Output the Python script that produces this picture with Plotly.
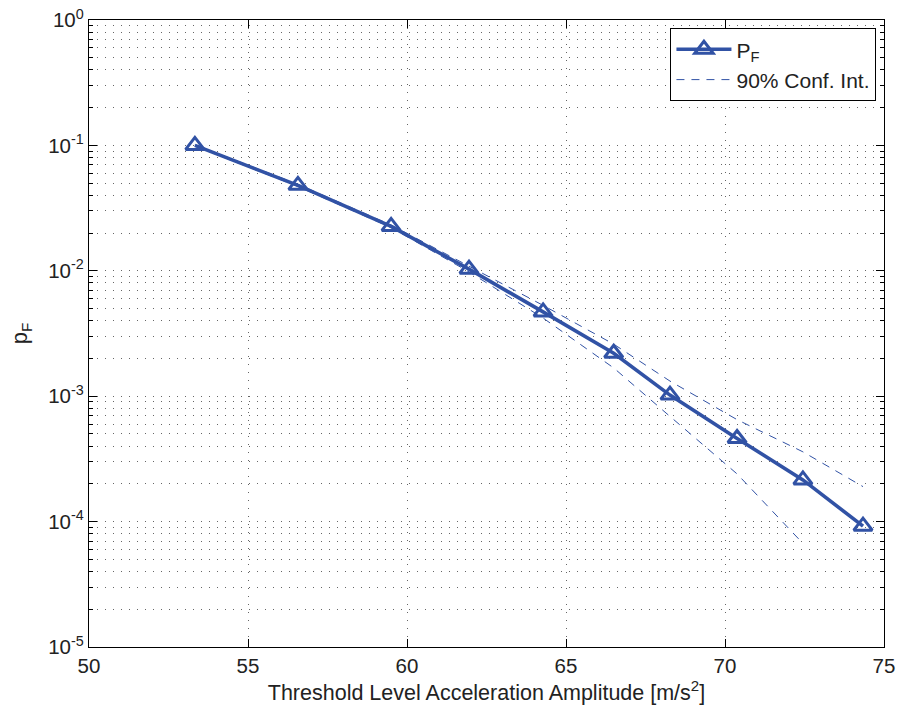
import plotly.graph_objects as go

# Data
threshold = [53.33, 56.57, 59.5, 61.95, 64.28, 66.5, 68.27, 70.38, 72.45, 74.34]
pf = [0.1, 0.048, 0.0226, 0.0103, 0.0047, 0.0022, 0.00102, 0.00046, 0.000215, 0.000092]
ci_upper = [0.101, 0.049, 0.0232, 0.0109, 0.0053, 0.0026, 0.00132, 0.00065, 0.00036, 0.00019]
ci_lower = [0.099, 0.047, 0.0221, 0.0098, 0.0042, 0.00168, 0.00069, 0.00024, 0.000067, None]

y_tickvals = [1e-5, 1e-4, 1e-3, 1e-2, 1e-1, 1e0]
y_ticktext = ["10<sup>-5</sup>", "10<sup>-4</sup>", "10<sup>-3</sup>",
              "10<sup>-2</sup>", "10<sup>-1</sup>", "10<sup>0</sup>"]
x_tickvals = [50, 55, 60, 65, 70, 75]
y_minor = [m * 10.0 ** e for e in range(-5, 0) for m in range(2, 10)]

BLUE = "#3152A5"
TXT = "#222222"
FONT = "Liberation Sans, Arial, Helvetica, sans-serif"

fig = go.Figure()
fig.add_trace(go.Scatter(
    x=threshold, y=pf, name="P<sub>F</sub>", mode="lines+markers",
    line=dict(color=BLUE, width=3.6),
    marker=dict(symbol="triangle-up-open", size=16, color=BLUE,
                line=dict(color=BLUE, width=3)),
))
fig.add_trace(go.Scatter(
    x=threshold, y=ci_upper, name="90% Conf. Int.", mode="lines",
    line=dict(color=BLUE, width=1, dash="8px,7px"),
))
fig.add_trace(go.Scatter(
    x=threshold, y=ci_lower, name="lower", mode="lines", showlegend=False,
    line=dict(color=BLUE, width=1, dash="8px,7px"),
))

GRIDC = "#666666"
grid = dict(showgrid=True, gridcolor=GRIDC, griddash="1px,7px", gridwidth=1)

fig.update_xaxes(
    range=[50, 75], tickvals=x_tickvals, ticks="inside", ticklen=8,
    tickcolor="black", showline=True, linecolor="black", linewidth=1.3,
    mirror="ticks", zeroline=False, automargin=False,
    title=dict(text="Threshold Level Acceleration Amplitude [m/s<sup>2</sup>]",
               font=dict(size=21.5, color=TXT), standoff=8),
    tickfont=dict(size=20.5, color=TXT), **grid,
)
fig.update_yaxes(
    type="log", range=[-5, 0], tickvals=y_tickvals, ticktext=y_ticktext,
    ticks="inside", ticklen=8, tickcolor="black",
    showline=True, linecolor="black", linewidth=1.3, mirror="ticks",
    zeroline=False, automargin=False,
    title=dict(text="p<sub>F</sub>", font=dict(size=22, color=TXT), standoff=14),
    tickfont=dict(size=20.5, color=TXT),
    minor=dict(tickmode="array", tickvals=y_minor, ticks="inside", ticklen=4,
               tickcolor="black", showgrid=True, gridcolor=GRIDC,
               griddash="1px,7px", gridwidth=1),
    **grid,
)

fig.update_layout(
    width=898, height=711,
    margin=dict(l=89, r=14, t=20, b=64),
    paper_bgcolor="white", plot_bgcolor="white",
    font=dict(family=FONT, size=20, color=TXT),
    showlegend=True,
    legend=dict(x=0.9905, y=0.987, xanchor="right", yanchor="top",
                bgcolor="white", bordercolor="black", borderwidth=1,
                font=dict(size=21, color=TXT), tracegroupgap=0,
                itemwidth=55),
)

fig.write_html(
    "out.html",
    config={"displayModeBar": False},
    post_script="document.body.style.margin='0';document.body.style.overflow='hidden';",
)
